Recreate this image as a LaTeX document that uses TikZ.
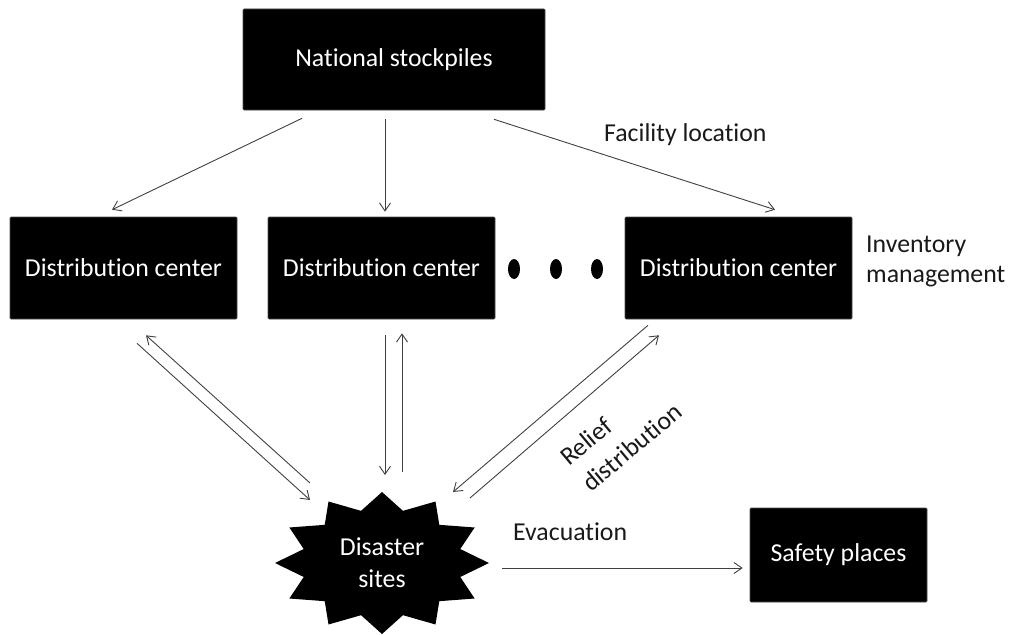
\documentclass[tikz,border=0pt]{standalone}
\usepackage{fontspec}
\setmainfont{Carlito}[Ligatures=NoCommon]
\usetikzlibrary{arrows.meta,calc}
\begin{document}
\begin{tikzpicture}[x=1pt,y=-1pt,
  box/.style={draw=black!70,line width=0.6pt,fill=black,rounded corners=1pt,text=white,inner sep=0pt,font=\fontsize{25.8}{31}\selectfont,align=center},
  lbl/.style={text=black!90,inner sep=0pt,font=\fontsize{25.8}{30}\selectfont},
  conn/.style={draw=black!75,line width=0.9pt,-{Straight Barb[length=8pt,width=11pt]}}]
\useasboundingbox (0,0) rectangle (1011,634);
% boxes
\node[box,minimum width=302,minimum height=101] (ns) at (394,59.5) {National stockpiles};
\node[box,minimum width=227,minimum height=102] (dc1) at (123.5,268) {Distribution center};
\node[box,minimum width=227,minimum height=102] (dc2) at (381.5,268) {Distribution center};
\node[box,minimum width=227,minimum height=102] (dc3) at (738.5,268) {Distribution center};
\node[box,minimum width=177,minimum height=94] (sp) at (838.5,555) {Safety places};
% dots
\fill[black] (514,269) ellipse (6 and 10);
\fill[black] (556,269) ellipse (6 and 10);
\fill[black] (597,269) ellipse (6 and 10);
% starburst
\coordinate (dsc) at (382,563);
\fill[black] ($(dsc)+(0:107 and 71)$)
  \foreach \a in {0,30,...,330}{ -- ($(dsc)+(\a+15:81 and 54)$) -- ($(dsc)+(\a+30:107 and 71)$)} -- cycle;
\node[text=white,inner sep=0pt,align=center,font=\fontsize{25.8}{32}\selectfont] (ds) at (dsc) {Disaster\\sites};
% labels
\node[lbl,anchor=base west] (fl) at (604,141) {Facility location};
\node[lbl,anchor=west,align=left] (im) at (866,261) {Inventory\\management};
\node[lbl,anchor=base west] (ev) at (513,540) {Evacuation};
\node[lbl,rotate=40,align=left,font=\fontsize{25.8}{34}\selectfont] (rd) at (621,434) {Relief\\distribution};
% connectors
\draw[conn] ($(ns.south)+(-92,8)$) -- ($(dc1.north)+(-11.5,-7)$);
\draw[conn] ($(ns.south)+(-9,9)$) -- ($(dc2.north)+(3.5,-5)$);
\draw[conn] ($(ns.south)+(100,9)$) -- ($(dc3.north)+(36.5,-7)$);
\draw[conn] ($(dc1.south)+(13.5,24)$) -- ($(ds)+(-72,-63)$);
\draw[conn] ($(ds)+(-72,-80)$) -- ($(dc1.south)+(22.5,16)$);
\draw[conn] ($(dc2.south)+(3.5,16)$) -- ($(ds)+(3,-88)$);
\draw[conn] ($(ds)+(20,-91)$) -- ($(dc2.south)+(20.5,14)$);
\draw[conn] ($(dc3.south)+(-90.5,6)$) -- ($(ds)+(71,-71)$);
\draw[conn] ($(ds)+(88,-65)$) -- ($(dc3.south)+(-79.5,16)$);
\draw[conn] ($(ds)+(120,5)$) -- ($(sp.west)+(-7,13)$);
\end{tikzpicture}
\end{document}
